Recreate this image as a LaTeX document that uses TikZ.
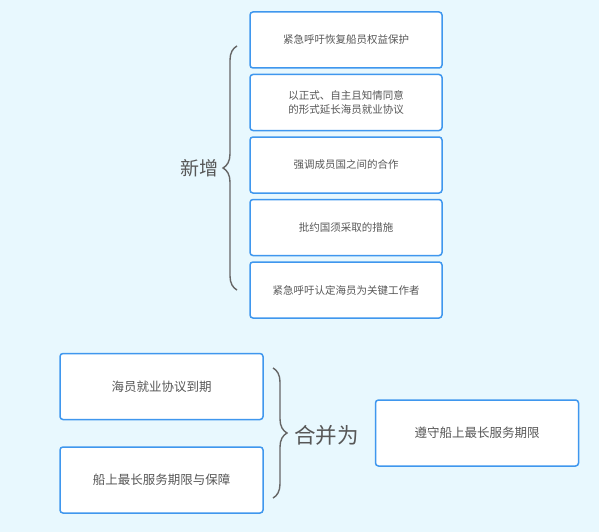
\documentclass[tikz,border=0pt]{standalone}
\usepackage{fontspec}
\setmainfont{Noto Sans CJK SC}
\usetikzlibrary{decorations.pathreplacing, positioning}

\definecolor{bgblue}{HTML}{E8F8FE}
\definecolor{boxblue}{HTML}{3F97EE}
\definecolor{txtgray}{HTML}{575757}
\definecolor{bracegray}{HTML}{666666}

\tikzset{
  itembox/.style={draw=boxblue, line width=1.5pt, fill=white, rounded corners=3pt,
    minimum width=192pt, minimum height=56pt, align=center, text=txtgray,
    font=\fontsize{10.5}{14}\selectfont},
  bigbox/.style={itembox, minimum width=203pt, minimum height=66pt,
    font=\fontsize{12.5}{15}\selectfont},
  bracket/.style={draw=bracegray, line width=1.4pt, decorate,
    decoration={brace, amplitude=14pt}},
  bracelabel/.style={text=txtgray, inner sep=1pt, anchor=west},
}

\begin{document}
\begin{tikzpicture}[x=1pt, y=-1pt]
  \fill[bgblue] (0,0) rectangle (599,532);
  \useasboundingbox (0,0) rectangle (599,532);

  % added items
  \node[itembox] (add1) at (346,40) {紧急呼吁恢复船员权益保护};
  \node[itembox, below=5pt of add1] (add2) {以正式、自主且知情同意\\的形式延长海员就业协议};
  \node[itembox, below=5pt of add2] (add3) {强调成员国之间的合作};
  \node[itembox, below=5pt of add3] (add4) {批约国须采取的措施};
  \node[itembox, below=5pt of add4] (add5) {紧急呼吁认定海员为关键工作者};

  \coordinate (addtop) at (237,46);
  \coordinate (addbot) at (237,290);
  \draw[bracket] (addbot) -- (addtop);
  \node[bracelabel, anchor=east, font=\fontsize{19}{22}\selectfont] (added) at (220,168) {新增};

  % merged items
  \node[bigbox] (merge1) at (161.5,386.5) {海员就业协议到期};
  \node[bigbox] (merge2) at (161.5,480) {船上最长服务期限与保障};
  \node[bigbox] (result) at (477,433) {遵守船上最长服务期限};

  \coordinate (mergetop) at (273,368);
  \coordinate (mergebot) at (273,498);
  \draw[bracket] (mergetop) -- (mergebot);
  \node[bracelabel, font=\fontsize{21.5}{24}\selectfont] (mergedas) at (293,435) {合并为};
\end{tikzpicture}
\end{document}
